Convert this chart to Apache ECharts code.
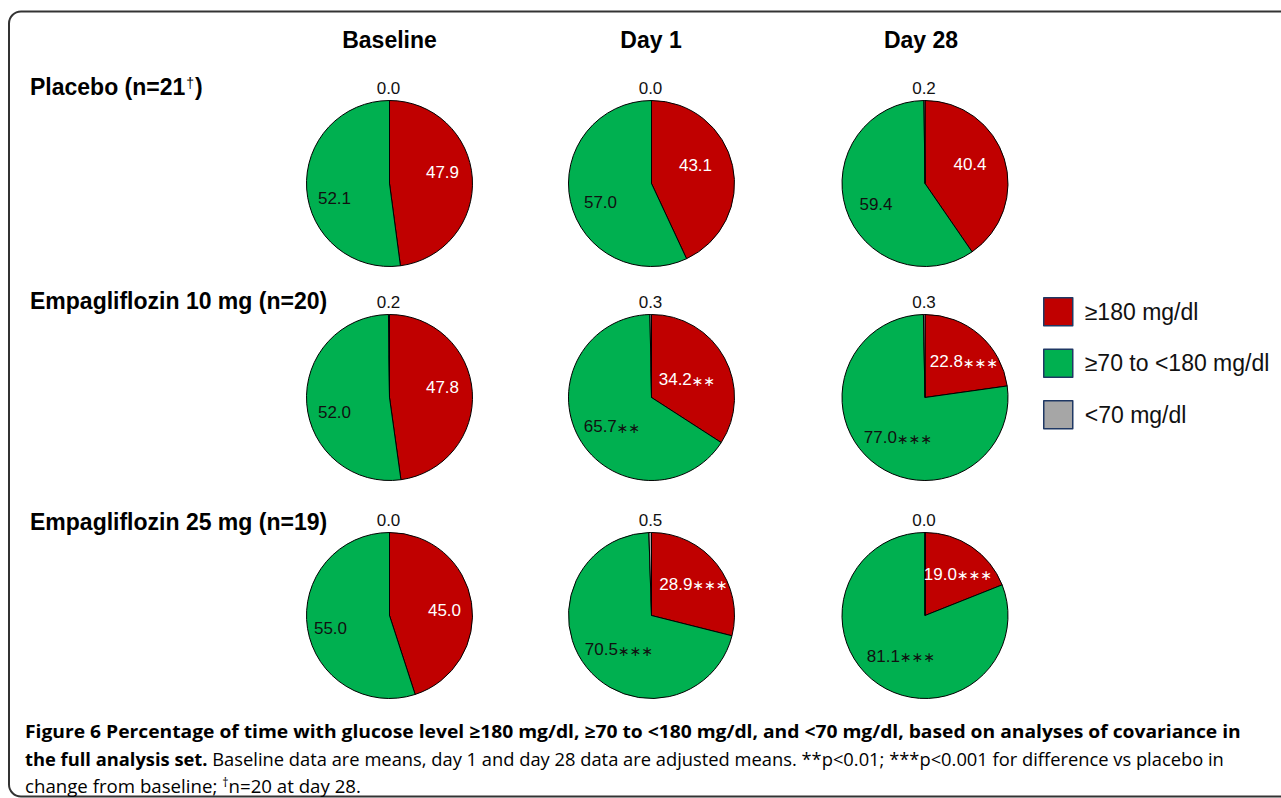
<!DOCTYPE html>
<html>
<head>
<meta charset="utf-8">
<script src="https://cdn.jsdelivr.net/npm/echarts@6/dist/echarts.min.js"></script>
<style>
  html, body { margin: 0; padding: 0; background: #fff; }
  #chart { width: 1281px; height: 798px; }
</style>
</head>
<body>
<div id="chart"></div>
<script>
// ---- data ----
const timepoints = ['Baseline', 'Day 1', 'Day 28'];
const groups = ['Placebo (n=21†)', 'Empagliflozin 10 mg (n=20)', 'Empagliflozin 25 mg (n=19)'];
const levels = ['≥180 mg/dl', '≥70 to <180 mg/dl', '<70 mg/dl'];

// % of time per glucose band, rows = groups, columns = timepoints
const high    = [[47.9, 43.1, 40.4], [47.8, 34.2, 22.8], [45.0, 28.9, 19.0]];
const inRange = [[52.1, 57.0, 59.4], [52.0, 65.7, 77.0], [55.0, 70.5, 81.1]];
const low     = [[0.0, 0.0, 0.2], [0.2, 0.3, 0.3], [0.0, 0.5, 0.0]];

// significance markers vs placebo
const sigHigh    = [['', '', ''], ['', '∗∗', '∗∗∗'], ['', '∗∗∗', '∗∗∗']];
const sigInRange = [['', '', ''], ['', '∗∗', '∗∗∗'], ['', '∗∗∗', '∗∗∗']];

const captionBold1 = 'Figure 6 Percentage of time with glucose level ≥180 mg/dl, ≥70 to <180 mg/dl, and <70 mg/dl, based on analyses of covariance in';
const captionBold2 = 'the full analysis set.';
const captionText2 = ' Baseline data are means, day 1 and day 28 data are adjusted means. **p<0.01; ***p<0.001 for difference vs placebo in';
const captionText3a = 'change from baseline; ';
const captionText3b = 'n=20 at day 28.';

// ---- layout ----
const colX = [389.5, 651.5, 925];
const rowY = [183.5, 397.5, 615.5];
const R = 83;
const titleX = [389.5, 651, 921];
const titleY = 40;
const rowLabelX = 30;
const rowLabelY = [87, 301, 522];
// label centre offsets from each pie centre: [red, green]
const labelOffsets = [
  [[[53, -11], [-55, 15]], [[44, -18], [-51, 19]], [[45, -19], [-49, 21]]],
  [[[53, -10], [-55, 15]], [[35.5, -18], [-39.5, 29]], [[39, -36], [-27, 40]]],
  [[[55, -5], [-59, 13]], [[42, -31.5], [-32.5, 34]], [[33, -41.5], [-24, 40.5]]]
];
const colors = ['#C00000', '#00B050', '#A6A6A6'];
const FONT = '"Liberation Sans", Arial, Helvetica, sans-serif';
const CAP_FONT = '"Open Sans", "Noto Sans", sans-serif';

const chart = echarts.init(document.getElementById('chart'), null, { renderer: 'svg' });

function fmt(v, sig) {
  return '{v|' + v.toFixed(1) + '}' + (sig ? '{a|' + sig + '}' : '');
}
const labelRich = {
  v: { fontSize: 17, fontFamily: FONT },
  a: { fontSize: 14, fontFamily: '"DejaVu Sans", sans-serif', padding: [2, 0, 0, 0] }
};

const series = [];
groups.forEach((g, r) => {
  timepoints.forEach((t, c) => {
    const cx = colX[c], cy = rowY[r];
    const offs = labelOffsets[r][c];
    series.push({
      type: 'pie',
      name: g + ' · ' + t,
      center: [cx, cy],
      radius: R,
      startAngle: 90,
      clockwise: true,
      silent: true,
      animation: false,
      emphasis: { disabled: true },
      itemStyle: { borderColor: '#000', borderWidth: 1 },
      label: { position: 'inside', fontSize: 17, fontFamily: FONT, rich: labelRich },
      labelLine: { show: false },
      data: [
        { name: levels[0], value: high[r][c], itemStyle: { color: colors[0] },
          label: { color: '#fff', formatter: fmt(high[r][c], sigHigh[r][c]) } },
        { name: levels[1], value: inRange[r][c], itemStyle: { color: colors[1] },
          label: { color: '#111', formatter: fmt(inRange[r][c], sigInRange[r][c]) } },
        { name: levels[2], value: low[r][c], itemStyle: { color: colors[2] },
          label: { color: '#111', formatter: fmt(low[r][c], '') } }
      ],
      labelLayout: function (p) {
        if (p.dataIndex === 2) {
          return { x: cx - 1, y: cy - R - 12, align: 'center', verticalAlign: 'middle' };
        }
        const o = offs[p.dataIndex];
        return { x: cx + o[0], y: cy + o[1], align: 'center', verticalAlign: 'middle' };
      }
    });
  });
});

// caption lines are fitted to their column width
const mctx = document.createElement('canvas').getContext('2d');
function w(text, weight, size) {
  mctx.font = weight + ' ' + size + 'px ' + CAP_FONT;
  return mctx.measureText(text).width;
}
const CAP_SIZE = 18;
const SUP_SIZE = 12;
const CAP_LEFT = 25;
const scale1 = (1242 - CAP_LEFT) / w(captionBold1, 'bold', CAP_SIZE);
const scale2 = (1224 - CAP_LEFT) / (w(captionBold2, 'bold', CAP_SIZE) + w(captionText2, 'normal', CAP_SIZE));
const scale3 = (361 - CAP_LEFT) / (w(captionText3a + captionText3b, 'normal', CAP_SIZE) + w('†', 'normal', SUP_SIZE));

const capRich = {
  b: { fontFamily: CAP_FONT, fontWeight: 'bold', fontSize: CAP_SIZE, color: '#231F20' },
  n: { fontFamily: CAP_FONT, fontWeight: 'normal', fontSize: CAP_SIZE, color: '#555' },
  s: { fontFamily: CAP_FONT, fontWeight: 'normal', fontSize: SUP_SIZE, color: '#555', verticalAlign: 'top' }
};

const graphics = [
  { type: 'rect', shape: { x: 9, y: 11.5, width: 1330, height: 785, r: 12 },
    style: { fill: 'none', stroke: '#333', lineWidth: 2 }, silent: true }
];
timepoints.forEach((t, c) => {
  graphics.push({ type: 'text', x: titleX[c], y: titleY,
    style: { text: t, fontFamily: FONT, fontWeight: 'bold', fontSize: 23, fill: '#000',
             align: 'center', verticalAlign: 'middle' } });
});
groups.forEach((g, r) => {
  graphics.push({ type: 'text', x: rowLabelX, y: rowLabelY[r],
    style: {
      text: g.replace('†', '{s|†}').replace(/^([^{]+)/, '{m|$1}').replace(/\}([^{]+)$/, '}{m|$1}'),
      rich: {
        m: { fontFamily: FONT, fontWeight: 'bold', fontSize: 23, color: '#000' },
        s: { fontFamily: FONT, fontWeight: 'normal', fontSize: 14, color: '#000', verticalAlign: 'top', padding: [0, 1, 0, 1] }
      },
      align: 'left', verticalAlign: 'middle' } });
});
graphics.push({ type: 'text', x: CAP_LEFT, y: 730.5, scaleX: scale1,
  style: { text: '{b|' + captionBold1 + '}', rich: capRich, align: 'left', verticalAlign: 'middle' } });
graphics.push({ type: 'text', x: CAP_LEFT, y: 759, scaleX: scale2,
  style: { text: '{b|' + captionBold2 + '}{n|' + captionText2 + '}', rich: capRich, align: 'left', verticalAlign: 'middle' } });
graphics.push({ type: 'text', x: CAP_LEFT, y: 786, scaleX: scale3,
  style: { text: '{n|' + captionText3a + '}{s|†}{n|' + captionText3b + '}', rich: capRich, align: 'left', verticalAlign: 'middle' } });

chart.setOption({
  animation: false,
  backgroundColor: '#fff',
  legend: {
    data: levels,
    orient: 'vertical',
    left: 1043,
    top: 297,
    padding: 0,
    itemWidth: 29,
    itemHeight: 28,
    itemGap: 22,
    icon: 'rect',
    selectedMode: false,
    itemStyle: { borderColor: '#1F3864', borderWidth: 1.5 },
    textStyle: { fontSize: 23, fontFamily: FONT, color: '#111', padding: [0, 0, 0, 7] }
  },
  graphic: graphics,
  series: series
});
</script>
</body>
</html>
